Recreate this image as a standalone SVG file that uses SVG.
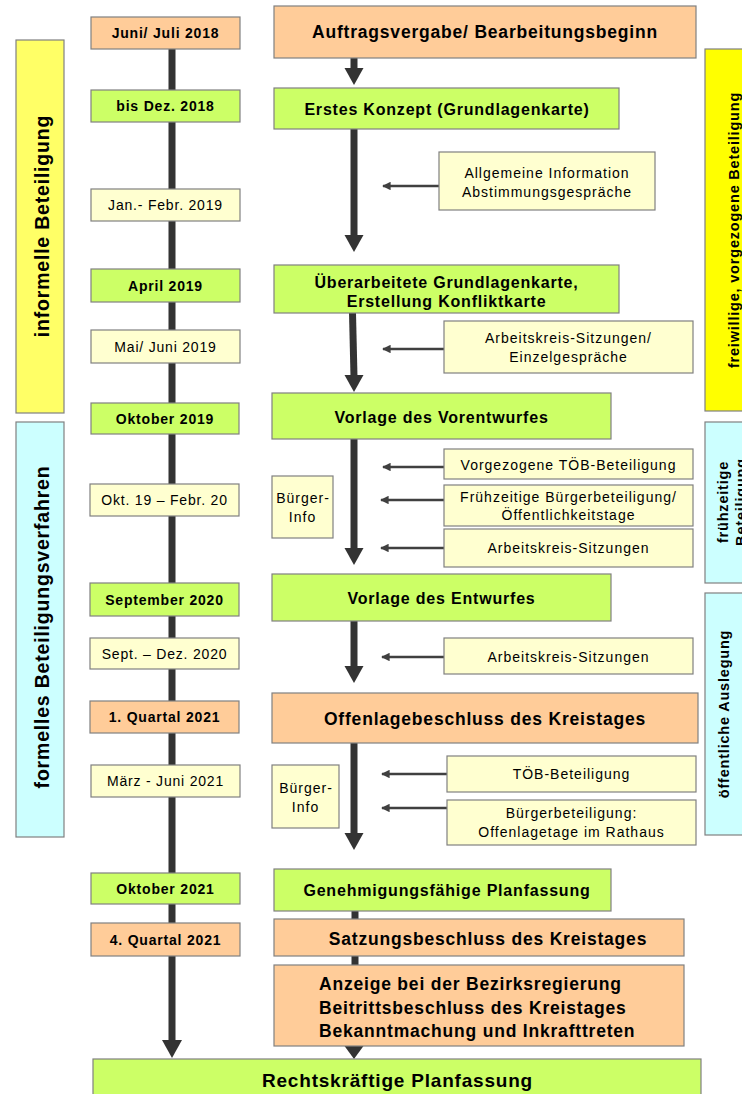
<svg xmlns="http://www.w3.org/2000/svg" width="742" height="1094" viewBox="0 0 742 1094">
<defs>
<style>
text{font-family:"Liberation Sans",Arial,sans-serif;fill:#000;text-anchor:middle;letter-spacing:0.8px}
.b{stroke:#808080;stroke-width:1.2}
.peach{fill:#FFCC99}
.green{fill:#CCFF66}
.ly{fill:#FFFFD0}
.yel{fill:#FFFF66}
.yel2{fill:#FFFF00}
.cyan{fill:#CCFFFF}
.tb{font-size:14px;font-weight:bold}
.tr{font-size:14px}
.mb{font-size:16px;font-weight:bold}
.mbl{font-size:17.5px;font-weight:bold}
.sr{font-size:14px;letter-spacing:1px}
.band{font-size:19.5px;font-weight:bold}
.rband{font-size:14.5px;font-weight:bold}
.shaft{stroke:#333;stroke-width:7;fill:none}
.head{fill:#333}
.thin{stroke:#404040;stroke-width:2.5;fill:none}
</style>
<marker id="sa" viewBox="0 0 10 10" refX="9" refY="5" markerWidth="4" markerHeight="3.4" orient="auto" markerUnits="strokeWidth">
<path d="M0,0 L10,5 L0,10 z" fill="#404040"/>
</marker>
</defs>
<rect width="742" height="1094" fill="#fff"/>

<!-- phase bands -->
<g id="band-informell"><rect class="b yel" x="16" y="40" width="48" height="373"/>
<text class="band" transform="translate(49,226) rotate(-90)">informelle Beteiligung</text></g>
<g id="band-formell"><rect class="b cyan" x="16" y="422" width="48" height="415"/>
<text class="band" transform="translate(49,627) rotate(-90)">formelles Beteiligungsverfahren</text></g>
<g id="band-freiwillig"><rect class="b yel2" x="705" y="49" width="45" height="362"/>
<text class="rband" transform="translate(739,230) rotate(-90)">freiwillige, vorgezogene Beteiligung</text></g>
<g id="band-fruehzeitig"><rect class="b cyan" x="705" y="422" width="45" height="161"/>
<text class="rband" transform="translate(728,502) rotate(-90)">frühzeitige</text>
<text class="rband" transform="translate(746,502) rotate(-90)">Beteiligung</text></g>
<g id="band-oeffentlich"><rect class="b cyan" x="705" y="593" width="45" height="242"/>
<text class="rband" transform="translate(729,714) rotate(-90)">öffentliche Auslegung</text></g>

<!-- connectors -->
<g id="connectors">
<line class="shaft" x1="172" y1="49" x2="172" y2="1042"/>
<path class="head" d="M162,1040 L182,1040 L172,1058 z"/>
<line class="shaft" x1="354" y1="58" x2="354" y2="70"/>
<path class="head" d="M344.5,68 L363.5,68 L354,85 z"/>
<line class="shaft" x1="354" y1="129" x2="354" y2="237"/>
<path class="head" d="M344.5,235 L363.5,235 L354,252 z"/>
<line class="shaft" x1="352.5" y1="313" x2="354" y2="377"/>
<path class="head" d="M344.5,375 L363.5,375 L354,392 z"/>
<line class="shaft" x1="354" y1="439" x2="354" y2="550"/>
<path class="head" d="M344.5,548 L363.5,548 L354,565 z"/>
<line class="shaft" x1="354" y1="621" x2="354" y2="668"/>
<path class="head" d="M344.5,666 L363.5,666 L354,683 z"/>
<line class="shaft" x1="354" y1="743" x2="354" y2="835"/>
<path class="head" d="M344.5,833 L363.5,833 L354,850 z"/>
<line class="shaft" x1="355" y1="911" x2="355" y2="919"/>
<line class="shaft" x1="355" y1="956" x2="355" y2="965"/>
<line class="shaft" x1="354" y1="1046" x2="354" y2="1044"/>
<path class="head" d="M344.5,1046 L363.5,1046 L354,1059 z"/>
<line class="thin" x1="439" y1="186" x2="383" y2="186" marker-end="url(#sa)"/>
<line class="thin" x1="444" y1="349" x2="383" y2="349" marker-end="url(#sa)"/>
<line class="thin" x1="444" y1="467" x2="383" y2="467" marker-end="url(#sa)"/>
<line class="thin" x1="444" y1="500" x2="381" y2="500" marker-end="url(#sa)"/>
<line class="thin" x1="444" y1="548" x2="381" y2="548" marker-end="url(#sa)"/>
<line class="thin" x1="444" y1="657" x2="382" y2="657" marker-end="url(#sa)"/>
<line class="thin" x1="447" y1="774" x2="382" y2="774" marker-end="url(#sa)"/>
<line class="thin" x1="447" y1="808" x2="382" y2="808" marker-end="url(#sa)"/>
</g>

<!-- timeline -->
<g id="t1"><rect class="b peach" x="91" y="17" width="149" height="32"/><text class="tb" x="165.5" y="38">Juni/ Juli 2018</text></g>
<g id="t2"><rect class="b green" x="91" y="90" width="149" height="32"/><text class="tb" x="165.5" y="111">bis Dez. 2018</text></g>
<g id="t3"><rect class="b ly" x="91" y="189" width="149" height="32"/><text class="tr" x="165.5" y="210">Jan.- Febr. 2019</text></g>
<g id="t4"><rect class="b green" x="91" y="269" width="149" height="33"/><text class="tb" x="165.5" y="290.5">April 2019</text></g>
<g id="t5"><rect class="b ly" x="91" y="330" width="149" height="33"/><text class="tr" x="165.5" y="351.5">Mai/ Juni 2019</text></g>
<g id="t6"><rect class="b green" x="91" y="403" width="148" height="31"/><text class="tb" x="165" y="423.5">Oktober 2019</text></g>
<g id="t7"><rect class="b ly" x="90" y="484" width="149" height="32"/><text class="tr" x="164.5" y="505">Okt. 19 – Febr. 20</text></g>
<g id="t8"><rect class="b green" x="90" y="583" width="149" height="33"/><text class="tb" x="164.5" y="604.5">September 2020</text></g>
<g id="t9"><rect class="b ly" x="90" y="638" width="149" height="31"/><text class="tr" x="164.5" y="658.5">Sept. – Dez. 2020</text></g>
<g id="t10"><rect class="b peach" x="90" y="701" width="149" height="32"/><text class="tb" x="164.5" y="722">1. Quartal 2021</text></g>
<g id="t11"><rect class="b ly" x="91" y="765" width="149" height="32"/><text class="tr" x="165.5" y="786">März - Juni 2021</text></g>
<g id="t12"><rect class="b green" x="91" y="873" width="149" height="31"/><text class="tb" x="165.5" y="893.5">Oktober 2021</text></g>
<g id="t13"><rect class="b peach" x="91" y="923" width="149" height="33"/><text class="tb" x="165.5" y="944.5">4. Quartal 2021</text></g>

<!-- main flow -->
<g id="m1"><rect class="b peach" x="274" y="6" width="422" height="52"/><text class="mbl" x="485" y="38">Auftragsvergabe/ Bearbeitungsbeginn</text></g>
<g id="m2"><rect class="b green" x="274" y="88" width="345" height="41"/><text class="mb" x="447" y="114.5">Erstes Konzept (Grundlagenkarte)</text></g>
<g id="m3"><rect class="b green" x="274" y="265" width="345" height="48"/><text class="mb" x="446.5" y="288">Überarbeitete Grundlagenkarte,</text><text class="mb" x="446.5" y="307">Erstellung Konfliktkarte</text></g>
<g id="m4"><rect class="b green" x="272" y="393" width="339" height="46"/><text class="mb" x="441.5" y="422.5">Vorlage des Vorentwurfes</text></g>
<g id="m5"><rect class="b green" x="272" y="574" width="339" height="47"/><text class="mb" x="441.5" y="603.5">Vorlage des Entwurfes</text></g>
<g id="m6"><rect class="b peach" x="272" y="693" width="426" height="50"/><text class="mbl" x="485" y="724.5">Offenlagebeschluss des Kreistages</text></g>
<g id="m7"><rect class="b green" x="274" y="869" width="337" height="42"/><text class="mb" x="447" y="895.5">Genehmigungsfähige Planfassung</text></g>
<g id="m8"><rect class="b peach" x="274" y="919" width="410" height="37"/><text class="mbl" x="488" y="944.5">Satzungsbeschluss des Kreistages</text></g>
<g id="m9"><rect class="b peach" x="274" y="965" width="410" height="81"/>
<text class="mbl" x="319" y="990" style="text-anchor:start">Anzeige bei der Bezirksregierung</text>
<text class="mbl" x="319" y="1013.5" style="text-anchor:start">Beitrittsbeschluss des Kreistages</text>
<text class="mbl" x="319" y="1037" style="text-anchor:start">Bekanntmachung und Inkrafttreten</text></g>
<g id="m10"><rect class="b green" x="93" y="1059" width="608" height="40"/><text class="mbl" x="397.5" y="1087" style="font-size:19px">Rechtskräftige Planfassung</text></g>

<!-- side boxes -->
<g id="s1"><rect class="b ly" x="439" y="152" width="216" height="58"/><text class="sr" x="547" y="178">Allgemeine Information</text><text class="sr" x="547" y="197">Abstimmungsgespräche</text></g>
<g id="s2"><rect class="b ly" x="444" y="321" width="249" height="52"/><text class="sr" x="568.5" y="343">Arbeitskreis-Sitzungen/</text><text class="sr" x="568.5" y="362">Einzelgespräche</text></g>
<g id="s3"><rect class="b ly" x="444" y="449" width="249" height="30"/><text class="sr" x="568.5" y="469.5">Vorgezogene TÖB-Beteiligung</text></g>
<g id="s4"><rect class="b ly" x="444" y="485" width="249" height="41"/><text class="sr" x="568.5" y="502">Frühzeitige Bürgerbeteiligung/</text><text class="sr" x="568.5" y="520">Öffentlichkeitstage</text></g>
<g id="s5"><rect class="b ly" x="444" y="529" width="249" height="38"/><text class="sr" x="568.5" y="553">Arbeitskreis-Sitzungen</text></g>
<g id="s6"><rect class="b ly" x="444" y="638" width="249" height="36"/><text class="sr" x="568.5" y="662">Arbeitskreis-Sitzungen</text></g>
<g id="s7"><rect class="b ly" x="447" y="756" width="249" height="36"/><text class="sr" x="571.5" y="779">TÖB-Beteiligung</text></g>
<g id="s8"><rect class="b ly" x="447" y="800" width="249" height="45"/><text class="sr" x="571.5" y="818">Bürgerbeteiligung:</text><text class="sr" x="571.5" y="837">Offenlagetage im Rathaus</text></g>
<g id="bi1"><rect class="b ly" x="272" y="476" width="61" height="62"/><text class="sr" x="303" y="503">Bürger-</text><text class="sr" x="302.5" y="522">Info</text></g>
<g id="bi2"><rect class="b ly" x="272" y="765" width="67" height="63"/><text class="sr" x="306" y="793">Bürger-</text><text class="sr" x="305.5" y="812">Info</text></g>
</svg>
